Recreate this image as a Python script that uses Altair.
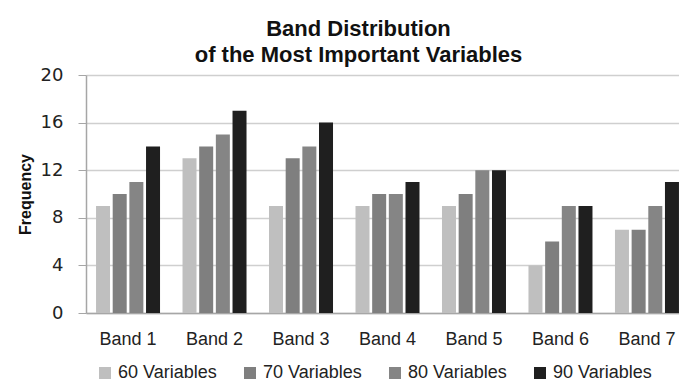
import altair as alt
import pandas as pd

bands = ["Band 1", "Band 2", "Band 3", "Band 4", "Band 5", "Band 6", "Band 7"]
series = ["60 Variables", "70 Variables", "80 Variables", "90 Variables"]
v60 = [9, 13, 9, 9, 9, 4, 7]
v70 = [10, 14, 13, 10, 10, 6, 7]
v80 = [11, 15, 14, 10, 12, 9, 9]
v90 = [14, 17, 16, 11, 12, 9, 11]
colors = ["#bfbfbf", "#7f7f7f", "#858585", "#1f1f1f"]
y_ticks = [0, 4, 8, 12, 16, 20]

rows = []
for s, vals in zip(series, [v60, v70, v80, v90]):
    for b, v in zip(bands, vals):
        rows.append({"band": b, "series": s, "value": v})
df = pd.DataFrame(rows)

chart = alt.Chart(df).mark_bar().encode(
    x=alt.X("band:N", sort=bands, title=None,
            scale=alt.Scale(range=[0, 603], paddingInner=0.26, paddingOuter=0.116),
            axis=alt.Axis(labelAngle=0, ticks=False, labelPadding=17, labelFont="Liberation Sans",
                          labelFontSize=18, labelColor="#222222", domainColor="#a6a6a6",
                          domainWidth=1.5, grid=False)),
    xOffset=alt.XOffset("series:N", sort=series, scale=alt.Scale(paddingInner=0.16, paddingOuter=0)),
    y=alt.Y("value:Q", title="Frequency",
            scale=alt.Scale(domain=[0, 20], nice=False),
            axis=alt.Axis(values=y_ticks, tickSize=8, labelPadding=15, labelFont="DejaVu Sans",
                          labelFontSize=18, labelColor="#222222", tickColor="#a6a6a6",
                          domainColor="#a6a6a6", domainWidth=1.5, gridColor="#cfcfcf",
                          gridWidth=1.5, titleFont="Liberation Sans", titleFontSize=16,
                          titleFontWeight="bold", titleColor="#111111", titlePadding=7)),
    color=alt.Color("series:N", sort=series,
                    scale=alt.Scale(domain=series, range=colors),
                    legend=alt.Legend(title=None, orient="none", direction="horizontal",
                                      legendX=10, legendY=289, symbolType="square",
                                      symbolSize=144, symbolStrokeWidth=0, labelFont="Liberation Sans",
                                      labelFontSize=18, labelColor="#222222", columnPadding=24,
                                      gridAlign="all", labelOffset=4, padding=0)),
).properties(
    width=593, height=238,
    padding={"left": 86, "top": 75, "right": 0, "bottom": 70},
    autosize="none",
    title=alt.TitleParams(text=["Band Distribution", "of the Most Important Variables"],
                          font="Liberation Sans", fontSize=22, fontWeight="bold",
                          color="#111111", anchor="middle", dx=-24, dy=4, lineHeight=26, offset=3),
).configure_view(stroke=None)

chart.save("out.html", embed_options={"renderer": "svg", "actions": False})
